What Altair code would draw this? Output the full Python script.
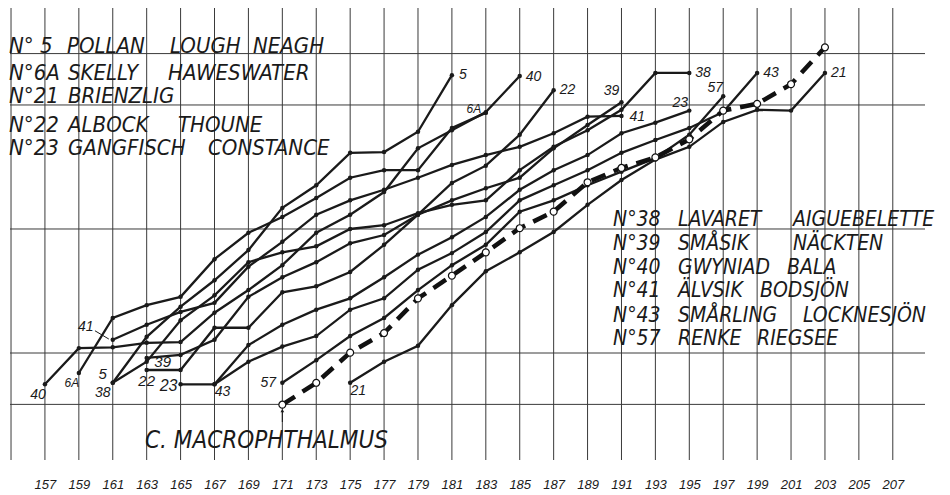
import altair as alt
import pandas as pd
from statistics import NormalDist

# ---------------- data ----------------
# length classes (x axis), every second unit
tick_values = list(range(157, 209, 2))
grid_x = list(range(155, 209, 2))
# probability-paper rulings (cumulative %)
grid_pct = [1, 5, 50, 95, 99]

# first length class of every curve
start = {"5": 161, "6A": 159, "21": 175, "22": 163, "23": 165, "38": 161,
         "39": 163, "40": 157, "41": 161, "43": 167, "57": 171, "macro": 171}

# cumulative frequency in normal-deviate units (probability paper), one value per class
ned_5 = [-2.04, -1.43, -1.03, -0.68, -0.28, 0.28, 0.58, 1.01, 1.02, 1.29, 2.04]
ned_6A = [-1.91, -1.18, -1.01, -0.90, -0.40, -0.05, 0.16, 0.41, 0.68, 0.78, 0.78, 1.34, 1.54]
ned_40 = [-2.06, -1.58, -1.57, -1.51, -1.50, -1.11, -0.81, -0.48, -0.05, 0.19, 0.49, 1.07, 1.31, 1.55, 2.03]
ned_41 = [-1.47, -1.27, -1.10, -0.98, -0.50, -0.17, 0.19, 0.38, 0.52, 0.68, 0.85, 0.98, 1.09, 1.27, 1.49, 1.50]
ned_39 = [-1.71, -1.67, -1.47, -0.90, -0.64, -0.44, -0.19, -0.08, 0.19, 0.38, 0.54, 0.68, 1.07, 1.38, 1.68]
ned_22 = [-1.87, -1.87, -1.31, -1.31, -0.84, -0.76, -0.57, -0.21, 0.19, 0.61, 0.84, 1.25, 1.84]
ned_38 = [-2.04, -1.76, -1.21, -0.88, -0.44, -0.31, -0.23, 0.00, 0.05, 0.21, 0.32, 0.38, 0.78, 1.09, 1.31, 1.58, 2.07, 2.07]
ned_23 = [-2.06, -2.06, -1.54, -1.27, -1.07, -0.92, -0.64, -0.34, -0.11, 0.16, 0.52, 0.78, 0.98, 1.27, 1.41, 1.57]
ned_43 = [-2.06, -1.76, -1.56, -1.42, -1.07, -0.92, -0.54, -0.32, -0.04, 0.38, 0.58, 0.78, 1.01, 1.18, 1.34, 1.55, 2.07]
ned_57 = [-2.04, -1.74, -1.42, -1.18, -0.81, -0.48, -0.21, 0.23, 0.38, 0.58, 0.76, 0.94, 1.25, 1.76]
ned_21 = [-2.04, -1.76, -1.55, -1.01, -0.56, -0.31, -0.04, 0.32, 0.65, 0.92, 1.09, 1.42, 1.58, 1.57, 2.07]
ned_macro = [-2.33, -2.04, -1.64, -1.38, -0.92, -0.62, -0.31, 0.01, 0.23, 0.62, 0.81, 0.95, 1.19, 1.57, 1.66, 1.92, 2.41]

series = {"5": ned_5, "6A": ned_6A, "40": ned_40, "41": ned_41, "39": ned_39,
          "22": ned_22, "38": ned_38, "23": ned_23, "43": ned_43, "57": ned_57,
          "21": ned_21, "macro": ned_macro}

legend_left = [
    ["N° 5", "POLLAN", "LOUGH", "NEAGH"],
    ["N°6A", "SKELLY", "HAWESWATER"],
    ["N°21", "BRIENZLIG"],
    ["N°22", "ALBOCK", "THOUNE"],
    ["N°23", "GANGFISCH", "CONSTANCE"],
]
legend_right = [
    ["N°38", "LAVARET", "AIGUEBELETTE"],
    ["N°39", "SMÅSIK", "NÄCKTEN"],
    ["N°40", "GWYNIAD", "BALA"],
    ["N°41", "ÄLVSIK", "BODSJÖN"],
    ["N°43", "SMÅRLING", "LOCKNESJÖN"],
    ["N°57", "RENKE", "RIEGSEE"],
]
macro_title = "C.  MACROPHTHALMUS"

# ---------------- layout / style ----------------
W, H = 915, 452
FONT = "Liberation Sans Narrow, DejaVu Sans Condensed, Liberation Sans, sans-serif"
NUMFONT = "Liberation Sans, DejaVu Sans, sans-serif"
INK = "#1a1a1a"
GRID = "#3a3a3a"

xs = alt.Scale(domain=[154.94, 208.9], nice=False, zero=False)
ys = alt.Scale(domain=[-3.064, 2.931], nice=False, zero=False)
AX = alt.Axis(values=tick_values, title=None, domain=False, ticks=False, tickSize=0,
              grid=False, labelPadding=18, labelFont=NUMFONT, labelFontSize=13,
              labelFontStyle="italic", labelColor=INK, labelFlush=False, format="d")

rows = []
for name, vals in series.items():
    for i, v in enumerate(vals):
        rows.append({"series": name, "x": start[name] + 2 * i, "z": v})
df = pd.DataFrame(rows)
df_fish = df[df.series != "macro"]
df_macro = df[df.series == "macro"]

nd = NormalDist()
df_hg = pd.DataFrame({"z": [nd.inv_cdf(p / 100) for p in grid_pct]})
df_vg = pd.DataFrame({"x": grid_x})


def X():
    return alt.X("x:Q", scale=xs, axis=AX)


def Y(field="z:Q"):
    return alt.Y(field, scale=ys, axis=None)


vgrid = alt.Chart(df_vg).mark_rule(color=GRID, strokeWidth=1).encode(
    x=X(), y=alt.value(0), y2=alt.value(H))
hgrid = alt.Chart(df_hg).mark_rule(color=GRID, strokeWidth=1).encode(
    y=Y(), x=alt.value(0), x2=alt.value(W))

lines = alt.Chart(df_fish).mark_line(color=INK, strokeWidth=2.3).encode(
    x=X(), y=Y(), detail="series:N", order="x:Q")
dots = alt.Chart(df_fish).mark_circle(color=INK, size=20, opacity=1).encode(x=X(), y=Y())
macro_line = alt.Chart(df_macro).mark_line(
    color="#111", strokeWidth=4.5, strokeDash=[15, 9]).encode(x=X(), y=Y(), order="x:Q")
macro_pts = alt.Chart(df_macro).mark_point(
    shape="circle", size=48, filled=True, fill="white", stroke="#111",
    strokeWidth=1.2, opacity=1).encode(x=X(), y=Y())

# curve labels: (series, which end, text, dx, dy, align, size)
labels = [
    ("5", -1, "5", 7, 0, "left", 14), ("40", -1, "40", 6, 1, "left", 14),
    ("22", -1, "22", 6, 0, "left", 14), ("39", -1, "39", -10, -11, "center", 14),
    ("41", -1, "41", 8, 1, "left", 14), ("38", -1, "38", 6, 0, "left", 14),
    ("23", -1, "23", -9, -8, "center", 14), ("57", -1, "57", -8, -8, "center", 14),
    ("43", -1, "43", 6, 0, "left", 14), ("21", -1, "21", 6, 0, "left", 14),
    ("6A", -1, "6A", -12, -4, "center", 12),
    ("40", 0, "40", -7, 11, "center", 14), ("6A", 0, "6A", -7, 10, "center", 12),
    ("5", 0, "5", -10, -9, "center", 15), ("38", 0, "38", -10, 10, "center", 14),
    ("41", 0, "41", -27, -13, "center", 14), ("39", 0, "39", 16, 4, "center", 15),
    ("22", 0, "22", 0, 11, "center", 15), ("23", 0, "23", -12, 2, "center", 16),
    ("43", 0, "43", 8, 8, "center", 14), ("57", 0, "57", -14, 0, "center", 14),
    ("21", 0, "21", 8, 8, "center", 14),
]
label_layers = []
for s, which, t, dx, dy, al, fs in labels:
    vals = series[s]
    idx = 0 if which == 0 else len(vals) - 1
    d = pd.DataFrame({"x": [start[s] + 2 * idx], "z": [vals[idx]], "t": [t]})
    label_layers.append(alt.Chart(d).mark_text(
        dx=dx, dy=dy, align=al, baseline="middle", font=NUMFONT, fontSize=fs,
        fontStyle="italic", color=INK).encode(x=X(), y=Y(), text="t:N"))

# leader line for 41 and little arrow under the macrophthalmus start
lead = pd.DataFrame({"x": [159.95], "x2": [160.77], "z": [-1.35], "z2": [-1.46]})
leader = alt.Chart(lead).mark_rule(color=INK, strokeWidth=1).encode(
    x=X(), x2="x2:Q", y=Y(), y2="z2:Q")
arr = pd.DataFrame({"x": [171], "z": [-2.56], "z2": [-2.41]})
arrow = alt.Chart(arr).mark_rule(color=INK, strokeWidth=1).encode(x=X(), y=Y(), y2="z2:Q")
arrow_head = alt.Chart(arr).mark_point(shape="triangle-up", size=14, filled=True,
                                       color=INK, opacity=1).encode(x=X(), y=Y("z2:Q"))

# legend text blocks (pixel placement inside the plot area)
left_cols = [[-1, 57, 160, 243], [-1, 58, 158], [-1, 58], [-1, 58, 168], [-1, 58, 198]]
left_base = [45, 72, 95, 124, 147]
right_cols = [[603, 668, 783], [603, 668, 783], [603, 668, 777], [603, 668, 750],
              [603, 668, 793], [603, 668, 747]]
right_base = [218, 242, 266, 289, 314, 337]
trows = []
for words, cols, b in zip(legend_left, left_cols, left_base):
    for w, c in zip(words, cols):
        trows.append({"t": w, "px": c, "py": b, "fs": 22})
for words, cols, b in zip(legend_right, right_cols, right_base):
    for w, c in zip(words, cols):
        trows.append({"t": w, "px": c, "py": b, "fs": 21})
trows.append({"t": macro_title, "px": 135, "py": 440, "fs": 24})
df_t = pd.DataFrame(trows)
text_layers = []
for fs in sorted(df_t.fs.unique()):
    text_layers.append(alt.Chart(df_t[df_t.fs == fs]).mark_text(
        align="left", baseline="alphabetic", font=FONT, fontSize=int(fs),
        fontStyle="italic", color=INK).encode(
        x=alt.X("px:Q", scale=None, axis=None), y=alt.Y("py:Q", scale=None, axis=None),
        text="t:N"))

chart = alt.layer(
    vgrid, hgrid, lines, dots, macro_line, macro_pts,
    leader, arrow, arrow_head, *label_layers, *text_layers
).properties(
    width=W, height=H,
    padding={"left": 2, "top": 0, "right": 12, "bottom": 33},
    autosize=alt.AutoSizeParams(type="none"),
    background="white",
).configure_view(stroke=None)

chart.save("out.html", embed_options={"renderer": "svg", "actions": False})
